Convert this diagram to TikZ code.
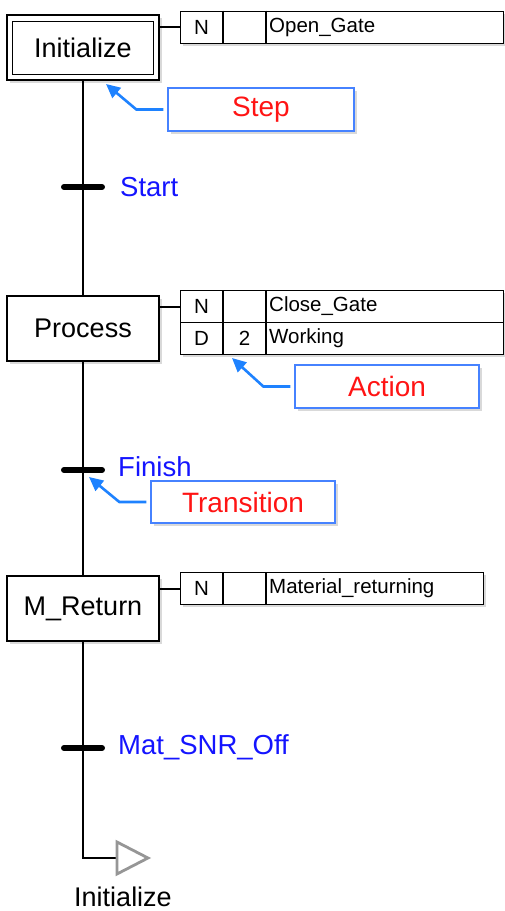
\documentclass[tikz,border=0pt]{standalone}
\usepackage{fontspec}
\setmainfont{Liberation Sans}
\usetikzlibrary{arrows.meta,shadows,calc}
\definecolor{callblue}{RGB}{70,130,255}
\definecolor{arrblue}{RGB}{30,130,255}
\definecolor{txtblue}{RGB}{20,20,255}
\definecolor{txtred}{RGB}{255,20,20}
\definecolor{trigray}{RGB}{150,150,150}
\begin{document}
\begin{tikzpicture}[x=1pt,y=-1pt,
  softshadow/.style={drop shadow={opacity=0.3,shadow xshift=2.5pt,shadow yshift=-2.5pt}},
  stepbox/.style={draw, line width=1.4pt, fill=white, minimum width=152pt, minimum height=65pt, inner sep=0pt, font=\fontsize{27}{30}\selectfont, softshadow},
  rowbox/.style={draw, line width=1.2pt, fill=white, minimum width=#1, minimum height=32pt, anchor=north west, inner sep=0pt, softshadow},
  celltext/.style={inner sep=0pt, font=\fontsize{20.5}{24}\selectfont},
  divider/.style={line width=1.2pt},
  mainline/.style={line width=2.2pt},
  tbar/.style={line width=6pt, line cap=round},
  translabel/.style={anchor=west, inner sep=0pt, text=txtblue, font=\fontsize{27.5}{30}\selectfont},
  callbox/.style={draw=callblue, line width=1.3pt, fill=white, minimum width=186pt, minimum height=43pt, inner sep=0pt, text=txtred, font=\fontsize{28}{32}\selectfont, softshadow},
  callarrow/.style={draw=arrblue, line width=2.6pt, -{Triangle[length=14pt,width=13pt]}, shorten <=4pt},
  link/.style={line width=2pt}
]
\useasboundingbox (0,0) rectangle (505,911);

% steps
\node[stepbox] (init) at (83,47.5) {Initialize};
\draw[line width=1.4pt] ($(init.north west)+(6,7)$) rectangle ($(init.south east)+(-6,-6)$);
\node[stepbox] (proc) at (83,328.5) {Process};
\node[stepbox] (mret) at (83,608.5) {M\_Return};

% main line
\draw[mainline] (init.south) -- (proc.north);
\draw[mainline] (proc.south) -- (mret.north);
\coordinate (jump) at (117,858);
\draw[mainline] (mret.south) |- (jump);

% transitions
\coordinate (t1) at (83,187);
\coordinate (t2) at (83,470);
\coordinate (t3) at (83,748);
\draw[tbar] ($(t1)+(-19,0)$) -- ($(t1)+(19,0)$);
\draw[tbar] ($(t2)+(-19,0)$) -- ($(t2)+(19,0)$);
\draw[tbar] ($(t3)+(-19,0)$) -- ($(t3)+(19,0)$);
\node[translabel] (lstart) at (120,187) {Start};
\node[translabel] (lfinish) at (118,467) {Finish};
\node[translabel] (lmat) at (118,747) {Mat\_SNR\_Off};

% jump
\draw[trigray, line width=2.8pt, fill=white, line join=miter] (jump) -- ++(0,-16) -- ++(31,16) -- ++(-31,16) -- cycle;
\node[inner sep=0pt, font=\fontsize{27}{30}\selectfont] (jlabel) at (123,897) {Initialize};

% action tables
\node[rowbox=323pt] (r1) at (180,10.5) {};
\draw[divider] ($(r1.north west)+(43,0)$) -- ($(r1.south west)+(43,0)$);
\draw[divider] ($(r1.north west)+(86,0)$) -- ($(r1.south west)+(86,0)$);
\node[celltext] at ($(r1.west)+(21.5,0)$) {N};
\node[celltext, anchor=west] at ($(r1.west)+(89,0)$) {Open\_Gate};
\draw[link] (init.east |- r1.west) -- (r1.west);

\node[rowbox=323pt] (r2a) at (180,290) {};
\node[rowbox=323pt] (r2b) at (180,322) {};
\draw[divider] ($(r2a.north west)+(43,0)$) -- ($(r2b.south west)+(43,0)$);
\draw[divider] ($(r2a.north west)+(86,0)$) -- ($(r2b.south west)+(86,0)$);
\node[celltext] at ($(r2a.west)+(21.5,0)$) {N};
\node[celltext, anchor=west] at ($(r2a.west)+(89,0)$) {Close\_Gate};
\node[celltext] at ($(r2b.west)+(21.5,0)$) {D};
\node[celltext] at ($(r2b.west)+(64.5,0)$) {2};
\node[celltext, anchor=west] at ($(r2b.west)+(89,0)$) {Working};
\draw[link] (proc.east |- r2a.west) -- (r2a.west);

\node[rowbox=303pt] (r3) at (180,572) {};
\draw[divider] ($(r3.north west)+(43,0)$) -- ($(r3.south west)+(43,0)$);
\draw[divider] ($(r3.north west)+(86,0)$) -- ($(r3.south west)+(86,0)$);
\node[celltext] at ($(r3.west)+(21.5,0)$) {N};
\node[celltext, anchor=west] at ($(r3.west)+(89,0)$) {Material\_returning};
\draw[link] (mret.east |- r3.west) -- (r3.west);

% callouts
\node[callbox] (cstep) at (261,109.5) {Step};
\coordinate (tipstep) at (106,84);
\draw[callarrow] (cstep.west) -- ++(-31,0) -- (tipstep);

\node[callbox, minimum width=184pt] (caction) at (387,386.5) {Action};
\coordinate (tipaction) at (232,358);
\draw[callarrow] (caction.west) -- ++(-31,0) -- (tipaction);

\node[callbox, minimum width=184pt, minimum height=42pt] (ctrans) at (243,502) {Transition};
\coordinate (tiptrans) at (89,477);
\draw[callarrow] (ctrans.west) -- ++(-31,0) -- (tiptrans);
\end{tikzpicture}
\end{document}
